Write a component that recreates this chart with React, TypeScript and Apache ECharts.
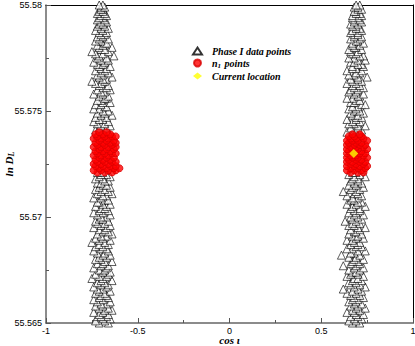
import React, { useEffect, useRef } from "react";
import * as echarts from "echarts";

// Rows: [ln D_L, cos iota values...]
const phase1LeftRows: number[][] = [
  [55.5650,-0.71,-0.66],[55.5651,-0.73,-0.68],[55.5652,-0.69,-0.65],[55.5653,-0.72,-0.67,-0.70],[55.5654,-0.66,-0.71],
  [55.5655,-0.74,-0.69],[55.5656,-0.68,-0.64],[55.5657,-0.71,-0.66],[55.5658,-0.73,-0.69],[55.5659,-0.67,-0.70],
  [55.5660,-0.72,-0.65],[55.5661,-0.69,-0.74],[55.5662,-0.66,-0.71],[55.5663,-0.70,-0.67],[55.5664,-0.73,-0.68],
  [55.5665,-0.65,-0.71],[55.5666,-0.69,-0.72],[55.5667,-0.67,-0.74],[55.5668,-0.70,-0.66],[55.5669,-0.72,-0.68],
  [55.5670,-0.64,-0.70],[55.5671,-0.75,-0.69],[55.5672,-0.67,-0.71],[55.5673,-0.73,-0.66],[55.5674,-0.69,-0.65],
  [55.5675,-0.71,-0.68],[55.5676,-0.74,-0.67],[55.5677,-0.66,-0.70],[55.5678,-0.72,-0.69],[55.5679,-0.68,-0.64],
  [55.5680,-0.70,-0.73],[55.5681,-0.67,-0.71],[55.5682,-0.65,-0.69],[55.5683,-0.72,-0.68],[55.5684,-0.74,-0.66],
  [55.5685,-0.70,-0.67],[55.5686,-0.69,-0.73],[55.5687,-0.66,-0.71],[55.5688,-0.68,-0.75],[55.5689,-0.71,-0.65],
  [55.5690,-0.73,-0.69],[55.5691,-0.67,-0.70],[55.5692,-0.64,-0.72],[55.5693,-0.69,-0.66],[55.5694,-0.71,-0.68],
  [55.5695,-0.74,-0.67],[55.5696,-0.70,-0.65],[55.5697,-0.68,-0.72],[55.5698,-0.66,-0.73],[55.5699,-0.71,-0.69],
  [55.5700,-0.67,-0.70],[55.5701,-0.72,-0.65],[55.5702,-0.69,-0.74],[55.5703,-0.66,-0.71],[55.5704,-0.70,-0.68],
  [55.5705,-0.73,-0.67],[55.5706,-0.65,-0.69],[55.5707,-0.71,-0.72],[55.5708,-0.68,-0.66],[55.5709,-0.74,-0.70],
  [55.5710,-0.67,-0.69],[55.5711,-0.72,-0.64],[55.5712,-0.70,-0.66],[55.5713,-0.68,-0.73],[55.5714,-0.65,-0.71],
  [55.5715,-0.69,-0.67],[55.5716,-0.72,-0.70],[55.5717,-0.66,-0.68],[55.5718,-0.73,-0.69],[55.5719,-0.71,-0.65],
  [55.5720,-0.67,-0.70],[55.5721,-0.69,-0.72],[55.5724,-0.70],[55.5728,-0.68],[55.5732,-0.71],[55.5736,-0.67],
  [55.5739,-0.72,-0.68],[55.5740,-0.66,-0.70],[55.5741,-0.73,-0.69],[55.5742,-0.67,-0.71],[55.5743,-0.70,-0.65],
  [55.5744,-0.72,-0.68],[55.5745,-0.74,-0.66],[55.5746,-0.69,-0.71],[55.5747,-0.67,-0.73],[55.5748,-0.70,-0.64],
  [55.5749,-0.72,-0.68],[55.5750,-0.66,-0.69],[55.5751,-0.71,-0.74],[55.5752,-0.68,-0.67],[55.5753,-0.73,-0.70],
  [55.5754,-0.65,-0.69],[55.5755,-0.70,-0.72],[55.5756,-0.67,-0.68],[55.5757,-0.71,-0.66],[55.5758,-0.74,-0.69],
  [55.5759,-0.68,-0.70],[55.5760,-0.72,-0.65],[55.5761,-0.69,-0.67],[55.5762,-0.66,-0.71],[55.5763,-0.70,-0.73],
  [55.5764,-0.75,-0.68],[55.5765,-0.67,-0.69],[55.5766,-0.71,-0.64],[55.5767,-0.69,-0.72],[55.5768,-0.66,-0.70],
  [55.5769,-0.73,-0.68],[55.5770,-0.70,-0.67],[55.5771,-0.65,-0.71],[55.5772,-0.72,-0.69],[55.5773,-0.68,-0.74],
  [55.5774,-0.70,-0.66],[55.5775,-0.67,-0.72],[55.5776,-0.71,-0.63],[55.5777,-0.69,-0.73],[55.5778,-0.75,-0.66],
  [55.5779,-0.70,-0.68],[55.5780,-0.64,-0.71],[55.5781,-0.72,-0.69],[55.5782,-0.68,-0.67],[55.5783,-0.70,-0.73],
  [55.5784,-0.66,-0.71],[55.5785,-0.72,-0.69],[55.5786,-0.68,-0.70],[55.5787,-0.71,-0.67],[55.5788,-0.73,-0.69],
  [55.5789,-0.70,-0.66],[55.5790,-0.68,-0.72],[55.5791,-0.71,-0.69],[55.5792,-0.67,-0.70],[55.5793,-0.72,-0.68],
  [55.5794,-0.69,-0.71],[55.5795,-0.70,-0.67],[55.5796,-0.68,-0.72],[55.5797,-0.71,-0.69],[55.5798,-0.69,-0.70],
  [55.5799,-0.70,-0.68],[55.5800,-0.69,-0.71],
];

const phase1RightRows: number[][] = [
  [55.5650,0.67,0.71],[55.5651,0.69,0.65],[55.5652,0.72,0.68],[55.5653,0.66,0.70],[55.5654,0.69,0.73],
  [55.5655,0.64,0.68],[55.5656,0.71,0.67],[55.5657,0.69,0.74],[55.5658,0.66,0.70],[55.5659,0.72,0.68],
  [55.5660,0.65,0.69],[55.5661,0.70,0.67],[55.5662,0.73,0.68],[55.5663,0.66,0.71],[55.5664,0.69,0.64],
  [55.5665,0.67,0.72],[55.5666,0.62,0.70],[55.5667,0.68,0.74],[55.5668,0.66,0.71],[55.5669,0.69,0.65],
  [55.5670,0.72,0.67],[55.5671,0.68,0.70],[55.5672,0.64,0.73],[55.5673,0.70,0.66],[55.5674,0.67,0.69],
  [55.5675,0.71,0.65],[55.5676,0.68,0.73],[55.5677,0.62,0.69],[55.5678,0.66,0.71],[55.5679,0.70,0.67],
  [55.5680,0.73,0.68],[55.5681,0.65,0.69],[55.5682,0.61,0.71],[55.5683,0.68,0.66],[55.5684,0.70,0.74],
  [55.5685,0.67,0.64],[55.5686,0.69,0.72],[55.5687,0.66,0.70],[55.5688,0.71,0.68],[55.5689,0.64,0.67],
  [55.5690,0.69,0.73],[55.5691,0.67,0.70],[55.5692,0.72,0.65],[55.5693,0.68,0.69],[55.5694,0.66,0.71],
  [55.5695,0.70,0.74],[55.5696,0.65,0.68],[55.5697,0.71,0.67],[55.5698,0.69,0.63],[55.5699,0.67,0.72],
  [55.5700,0.70,0.66],[55.5701,0.73,0.68],[55.5702,0.65,0.69],[55.5703,0.68,0.71],[55.5704,0.71,0.66],
  [55.5705,0.67,0.74],[55.5706,0.69,0.64],[55.5707,0.72,0.70],[55.5708,0.66,0.68],[55.5709,0.70,0.67],
  [55.5710,0.64,0.72],[55.5711,0.68,0.70],[55.5712,0.62,0.69],[55.5713,0.71,0.66],[55.5714,0.67,0.73],
  [55.5715,0.69,0.65],[55.5716,0.72,0.68],[55.5717,0.66,0.70],[55.5718,0.70,0.67],[55.5719,0.68,0.74],
  [55.5720,0.65,0.71],[55.5721,0.69,0.67],[55.5725,0.70],[55.5729,0.66],[55.5733,0.72],[55.5737,0.68],
  [55.5739,0.67,0.71],[55.5740,0.69,0.64],[55.5741,0.72,0.68],[55.5742,0.66,0.70],[55.5743,0.70,0.74],
  [55.5744,0.68,0.65],[55.5745,0.71,0.67],[55.5746,0.64,0.69],[55.5747,0.69,0.72],[55.5748,0.67,0.70],
  [55.5749,0.73,0.66],[55.5750,0.68,0.71],[55.5751,0.65,0.69],[55.5752,0.70,0.67],[55.5753,0.72,0.74],
  [55.5754,0.66,0.68],[55.5755,0.69,0.71],[55.5756,0.67,0.64],[55.5757,0.71,0.70],[55.5758,0.68,0.73],
  [55.5759,0.65,0.69],[55.5760,0.70,0.66],[55.5761,0.73,0.68],[55.5762,0.67,0.71],[55.5763,0.69,0.64],
  [55.5764,0.72,0.67],[55.5765,0.66,0.70],[55.5766,0.70,0.75],[55.5767,0.68,0.65],[55.5768,0.71,0.69],
  [55.5769,0.64,0.72],[55.5770,0.69,0.67],[55.5771,0.67,0.73],[55.5772,0.72,0.70],[55.5773,0.66,0.68],
  [55.5774,0.70,0.74],[55.5775,0.68,0.65],[55.5776,0.73,0.71],[55.5777,0.67,0.69],[55.5778,0.70,0.66],
  [55.5779,0.65,0.72],[55.5780,0.69,0.68],[55.5781,0.71,0.67],[55.5782,0.67,0.73],[55.5783,0.70,0.69],
  [55.5784,0.66,0.71],[55.5785,0.72,0.68],[55.5786,0.68,0.70],[55.5787,0.70,0.66],[55.5788,0.67,0.72],
  [55.5789,0.71,0.69],[55.5790,0.69,0.67],[55.5791,0.66,0.70],[55.5792,0.72,0.68],[55.5793,0.68,0.71],
  [55.5794,0.70,0.67],[55.5795,0.67,0.72],[55.5796,0.71,0.69],[55.5797,0.69,0.68],[55.5798,0.70,0.72],
  [55.5799,0.68,0.70],[55.5800,0.71,0.69],
];

const n1LeftRows: number[][] = [
  [55.5721,-0.72,-0.68,-0.64],[55.5722,-0.74,-0.70,-0.66,-0.62],[55.5723,-0.71,-0.67,-0.63,-0.60],
  [55.5724,-0.73,-0.69,-0.65,-0.62],[55.5725,-0.74,-0.70,-0.66],[55.5726,-0.72,-0.68,-0.64,-0.62],
  [55.5727,-0.73,-0.69,-0.65],[55.5728,-0.71,-0.67,-0.63],[55.5729,-0.74,-0.70,-0.66],
  [55.5730,-0.72,-0.68,-0.64,-0.62],[55.5731,-0.73,-0.69,-0.65],[55.5732,-0.71,-0.67,-0.63],
  [55.5733,-0.74,-0.70,-0.66,-0.62],[55.5734,-0.72,-0.68,-0.64],[55.5735,-0.73,-0.69,-0.65,-0.62],
  [55.5736,-0.71,-0.67,-0.63],[55.5737,-0.74,-0.70,-0.66],[55.5738,-0.72,-0.68,-0.64,-0.62],
  [55.5739,-0.73,-0.69,-0.65],[55.5740,-0.71,-0.67],
];

const n1RightRows: number[][] = [
  [55.5721,0.66,0.70,0.73],[55.5722,0.64,0.68,0.72],[55.5723,0.66,0.70,0.74],[55.5724,0.64,0.68,0.71,0.75],
  [55.5725,0.66,0.69,0.73],[55.5726,0.64,0.67,0.71,0.74],[55.5727,0.65,0.69,0.72],[55.5728,0.64,0.67,0.70,0.75],
  [55.5729,0.66,0.69,0.73],[55.5730,0.64,0.68,0.71,0.74],[55.5731,0.65,0.69,0.72],[55.5732,0.64,0.67,0.70,0.75],
  [55.5733,0.66,0.69,0.73],[55.5734,0.64,0.68,0.71,0.74],[55.5735,0.65,0.69,0.72],[55.5736,0.64,0.67,0.70,0.75],
  [55.5737,0.66,0.69,0.73],[55.5738,0.65,0.68,0.72],[55.5739,0.67,0.71],
];

const currentLocation: number[][] = [[0.677, 55.5730]];

const xTicks = { min: -1, max: 1, interval: 0.5 };
const yTicks = { min: 55.565, max: 55.58, interval: 0.005 };

const seriesNames = ["Phase I data points", "n1 points", "Current location"];

const toPoints = (rows: number[][]) =>
  rows.flatMap(([y, ...xs]) => xs.map((x) => [x, y]));

const serifBI = {
  fontFamily: "Liberation Serif",
  fontStyle: "italic" as const,
  fontWeight: "bold" as const,
  color: "#000",
};

export default function App() {
  const ref = useRef<HTMLDivElement>(null);
  useEffect(() => {
    if (!ref.current) return;
    const chart = echarts.init(ref.current, null, { renderer: "svg" });
    const axisLineMain = { show: true, onZero: false, lineStyle: { color: "#666", width: 1.5 } };
    const axisLineOpp = { show: true, onZero: false, lineStyle: { color: "#000", width: 1 } };
    const tickStyle = { show: true, inside: true, length: 5, lineStyle: { color: "#555", width: 1 } };
    const minorStyle = { show: true, splitNumber: 2, length: 3, lineStyle: { color: "#555", width: 1 } };
    const labelStyle = { fontFamily: "Liberation Sans", fontSize: 9, color: "#000" };
    chart.setOption({
      animation: false,
      grid: { left: 46, right: 2, top: 5, bottom: 23, containLabel: false, outerBoundsMode: "none" },
      legend: {
        orient: "vertical",
        left: 187,
        top: 41,
        itemWidth: 9,
        itemHeight: 7,
        itemGap: 2,
        data: seriesNames,
        formatter: (name: string) =>
          name === "n1 points" ? "{g|}{b|n}{s|1}{b| points}" : "{g|}{b|" + name + "}",
        textStyle: {
          ...serifBI,
          fontSize: 10,
          rich: {
            g: { width: 5 },
            b: { ...serifBI, fontSize: 10, lineHeight: 12 },
            s: { ...serifBI, fontSize: 7, verticalAlign: "bottom", padding: [4, 1, 0, 0] },
          },
        },
      },
      xAxis: [
        {
          type: "value",
          ...xTicks,
          position: "bottom",
          axisLine: axisLineMain,
          axisTick: tickStyle,
          minorTick: minorStyle,
          splitLine: { show: false },
          axisLabel: { ...labelStyle, margin: 3, lineHeight: 9 },
          name: "cos ι",
          nameLocation: "middle",
          nameMoveOverlap: false,
          nameGap: 12,
          nameTextStyle: { ...serifBI, fontSize: 11, lineHeight: 10 },
        },
        {
          type: "value",
          ...xTicks,
          position: "top",
          axisLine: axisLineOpp,
          axisTick: { show: false },
          axisLabel: { show: false },
          splitLine: { show: false },
        },
      ],
      yAxis: [
        {
          type: "value",
          ...yTicks,
          position: "left",
          axisLine: axisLineMain,
          axisTick: tickStyle,
          minorTick: minorStyle,
          splitLine: { show: false },
          axisLabel: { ...labelStyle, margin: 4 },
          name: "{b|ln D}{s|L}",
          nameLocation: "middle",
          nameMoveOverlap: false,
          nameGap: 31,
          nameTextStyle: {
            ...serifBI,
            fontSize: 11,
            rich: {
              b: { ...serifBI, fontSize: 11 },
              s: { ...serifBI, fontSize: 8, verticalAlign: "bottom", padding: [5, 0, 0, 0] },
            },
          },
        },
        {
          type: "value",
          ...yTicks,
          position: "right",
          axisLine: axisLineOpp,
          axisTick: { show: false },
          axisLabel: { show: false },
          splitLine: { show: false },
        },
      ],
      series: [
        {
          name: seriesNames[0],
          type: "scatter",
          symbol: "triangle",
          symbolSize: 8,
          data: [...toPoints(phase1LeftRows), ...toPoints(phase1RightRows)],
          itemStyle: { color: "#fff", borderColor: "#000", borderWidth: 0.8 },
          z: 2,
        },
        {
          name: seriesNames[1],
          type: "scatter",
          symbol: "circle",
          symbolSize: 7,
          data: [...toPoints(n1LeftRows), ...toPoints(n1RightRows)],
          itemStyle: { color: "#ff0000", borderColor: "#d80000", borderWidth: 1 },
          z: 3,
        },
        {
          name: seriesNames[2],
          type: "scatter",
          symbol: "diamond",
          symbolSize: 9,
          data: currentLocation,
          itemStyle: { color: "#ffff00" },
          z: 4,
        },
      ],
    });
    return () => chart.dispose();
  }, []);
  return <div ref={ref} style={{ width: 415, height: 346, position: "absolute", left: 0, top: 0 }} />;
}
